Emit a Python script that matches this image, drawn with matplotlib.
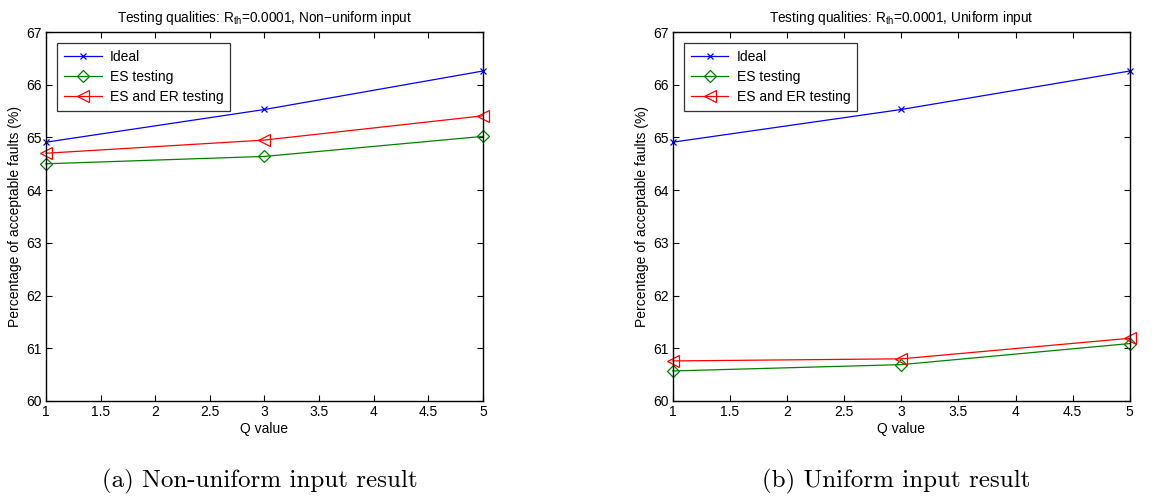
import matplotlib
matplotlib.use("Agg")
import matplotlib.pyplot as plt

plt.rcParams['font.family'] = ['Liberation Sans', 'DejaVu Sans']
plt.rcParams['mathtext.default'] = 'regular'

q_values = [1, 3, 5]
x_ticks = [1, 1.5, 2, 2.5, 3, 3.5, 4, 4.5, 5]
x_tick_labels = ['1', '1.5', '2', '2.5', '3', '3.5', '4', '4.5', '5']
y_ticks = [60, 61, 62, 63, 64, 65, 66, 67]

series_names = ['Ideal', 'ES testing', 'ES and ER testing']

# Non-uniform input
nonuni_ideal = [64.91, 65.53, 66.26]
nonuni_es = [64.50, 64.64, 65.02]
nonuni_es_er = [64.70, 64.95, 65.41]

# Uniform input
uni_ideal = [64.91, 65.53, 66.26]
uni_es = [60.57, 60.69, 61.09]
uni_es_er = [60.76, 60.80, 61.19]

titles = [r'Testing qualities: R$_{th}$=0.0001, Non−uniform input',
          r'Testing qualities: R$_{th}$=0.0001, Uniform input']
captions = ['(a) Non-uniform input result', '(b) Uniform input result']

fig = plt.figure(figsize=(11.56, 5.0), dpi=100)
ax_l = fig.add_axes([0.0398, 0.198, 0.378, 0.738])
ax_r = fig.add_axes([0.582, 0.198, 0.3953, 0.738])

styles = [dict(color='#0000ff', marker='x', ms=5, mew=0.9),
          dict(color='#008000', marker='D', ms=6.5, mfc='none', mew=0.9),
          dict(color='#ff0000', marker='<', ms=9, mfc='none', mew=0.9)]

for ax, data, title, caption in [
        (ax_l, [nonuni_ideal, nonuni_es, nonuni_es_er], titles[0], captions[0]),
        (ax_r, [uni_ideal, uni_es, uni_es_er], titles[1], captions[1])]:
    for vals, name, st in zip(data, series_names, styles):
        ax.plot(q_values, vals, lw=0.9, label=name, clip_on=False, **st)
    ax.set_xlim(1, 5)
    ax.set_ylim(60, 67)
    ax.set_xticks(x_ticks)
    ax.set_xticklabels(x_tick_labels)
    ax.set_yticks(y_ticks)
    ax.tick_params(direction='in', top=True, right=True, labelsize=10,
                   length=4, width=0.8, pad=3)
    for sp in ax.spines.values():
        sp.set_linewidth(1.0)
    ax.set_xlabel('Q value', fontsize=10, labelpad=2)
    ax.set_ylabel('Percentage of acceptable faults (%)', fontsize=10, labelpad=3)
    ax.set_title(title, fontsize=9.8, pad=7)
    leg = ax.legend(loc='upper left', fontsize=10, frameon=True, fancybox=False,
                    edgecolor='black', borderaxespad=0.8, handlelength=2.7,
                    borderpad=0.5, labelspacing=0.44, handletextpad=0.6)
    leg.get_frame().set_linewidth(0.9)
    bbox = ax.get_position()
    fig.text((bbox.x0 + bbox.x1) / 2 - 0.004, 0.038, caption, ha='center',
             va='center', fontsize=18, family='cmr10')

fig.savefig('out.png', dpi=100)
